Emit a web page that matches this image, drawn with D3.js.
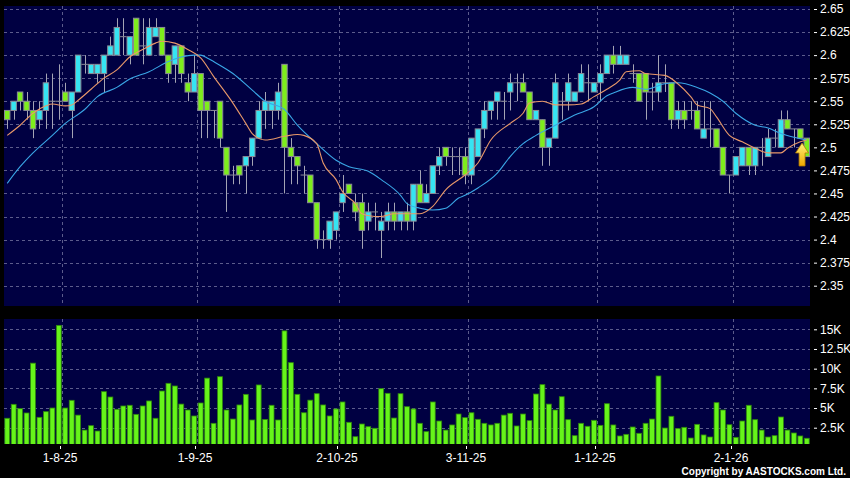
<!DOCTYPE html>
<html>
<head>
<meta charset="utf-8">
<script src="https://d3js.org/d3.v7.min.js"></script>
<style>
	body { margin: 0; background: #000; }
	svg { display: block; }
	.axis text { fill: #fff; font-family: "Liberation Sans", Arial, sans-serif; font-size: 12px; }
	.axis line { stroke: #fff; }
	.axis path { display: none; }
</style>
</head>
<body>
<svg id="chart" width="850" height="478"></svg>
<script>

// price data, one entry per trading day (21 Jul 2025 - 19 Jan 2026)
var open = [2.54,2.54,2.56,2.55,2.54,2.53,2.54,2.55,2.55,2.56,
	2.54,2.56,2.59,2.58,2.58,2.58,2.60,2.60,2.62,2.60,
	2.64,2.61,2.60,2.62,2.63,2.60,2.59,2.61,2.57,2.56,
	2.58,2.55,2.54,2.55,2.50,2.47,2.48,2.48,2.49,2.51,
	2.54,2.54,2.54,2.59,2.50,2.49,2.47,2.47,2.44,2.40,
	2.40,2.41,2.44,2.46,2.44,2.44,2.42,2.43,2.41,2.42,
	2.43,2.42,2.43,2.42,2.46,2.44,2.45,2.48,2.50,2.49,
	2.49,2.49,2.47,2.49,2.52,2.54,2.55,2.55,2.56,2.57,
	2.57,2.56,2.53,2.53,2.50,2.51,2.55,2.55,2.55,2.56,
	2.57,2.56,2.57,2.58,2.60,2.59,2.59,2.58,2.58,2.58,
	2.56,2.56,2.57,2.57,2.53,2.54,2.54,2.54,2.51,2.52,
	2.52,2.50,2.47,2.47,2.48,2.50,2.48,2.50,2.49,2.51,
	2.50,2.53,2.52,2.52,2.51];
var high = [2.54,2.55,2.56,2.56,2.55,2.55,2.58,2.58,2.59,2.57,
	2.56,2.60,2.60,2.59,2.59,2.60,2.62,2.64,2.64,2.62,
	2.64,2.64,2.64,2.64,2.63,2.60,2.61,2.61,2.58,2.60,
	2.58,2.55,2.54,2.55,2.50,2.48,2.48,2.49,2.51,2.55,
	2.56,2.55,2.57,2.59,2.51,2.49,2.48,2.47,2.44,2.41,
	2.42,2.43,2.47,2.46,2.45,2.45,2.44,2.44,2.43,2.44,
	2.44,2.43,2.44,2.46,2.475,2.46,2.48,2.50,2.50,2.50,
	2.50,2.50,2.51,2.52,2.55,2.55,2.56,2.56,2.58,2.58,
	2.58,2.56,2.54,2.53,2.51,2.58,2.56,2.58,2.56,2.59,
	2.59,2.57,2.59,2.60,2.61,2.61,2.60,2.59,2.58,2.58,
	2.57,2.60,2.59,2.57,2.55,2.55,2.55,2.55,2.55,2.55,
	2.52,2.50,2.47,2.49,2.50,2.50,2.50,2.51,2.52,2.52,
	2.54,2.54,2.52,2.52,2.51];
var low = [2.52,2.53,2.54,2.53,2.51,2.52,2.52,2.52,2.53,2.55,
	2.51,2.56,2.58,2.58,2.57,2.56,2.60,2.60,2.60,2.59,
	2.60,2.59,2.60,2.62,2.60,2.57,2.57,2.57,2.55,2.56,
	2.51,2.51,2.51,2.50,2.43,2.46,2.46,2.45,2.48,2.51,
	2.52,2.52,2.53,2.45,2.46,2.46,2.45,2.44,2.39,2.39,
	2.39,2.40,2.43,2.45,2.42,2.39,2.41,2.41,2.38,2.41,
	2.41,2.41,2.41,2.41,2.44,2.44,2.45,2.47,2.48,2.47,
	2.47,2.46,2.46,2.49,2.51,2.53,2.53,2.53,2.54,2.55,
	2.56,2.53,2.53,2.48,2.48,2.51,2.53,2.54,2.55,2.56,
	2.55,2.56,2.55,2.58,2.58,2.59,2.59,2.57,2.55,2.53,
	2.54,2.55,2.56,2.52,2.52,2.52,2.53,2.52,2.51,2.50,
	2.50,2.47,2.45,2.47,2.48,2.47,2.47,2.48,2.49,2.50,
	2.50,2.52,2.50,2.51,2.49];
var close = [2.53,2.55,2.55,2.54,2.52,2.54,2.57,2.55,2.55,2.55,
	2.56,2.60,2.59,2.59,2.59,2.60,2.61,2.63,2.62,2.62,
	2.60,2.61,2.63,2.63,2.60,2.58,2.61,2.58,2.56,2.58,
	2.54,2.54,2.54,2.51,2.47,2.47,2.47,2.49,2.51,2.54,
	2.55,2.55,2.56,2.50,2.49,2.48,2.47,2.44,2.40,2.40,
	2.42,2.43,2.45,2.45,2.43,2.41,2.43,2.43,2.42,2.43,
	2.42,2.43,2.42,2.46,2.44,2.45,2.48,2.49,2.49,2.49,
	2.49,2.47,2.51,2.52,2.54,2.55,2.56,2.55,2.57,2.57,
	2.56,2.53,2.54,2.50,2.51,2.57,2.55,2.57,2.56,2.58,
	2.57,2.57,2.58,2.60,2.59,2.60,2.60,2.58,2.55,2.56,
	2.56,2.57,2.57,2.53,2.54,2.53,2.54,2.52,2.52,2.52,
	2.50,2.47,2.47,2.49,2.50,2.48,2.50,2.50,2.51,2.51,
	2.53,2.52,2.52,2.51,2.49];

// volume in shares
var volume = [3700,5470,4920,4370,10700,3820,4540,5000,15500,5000,
	5980,4100,2200,2760,2080,7080,6400,4840,5260,5350,
	4200,5260,5900,3700,7160,8140,7800,5500,4750,3990,
	5640,8800,3060,8980,4750,3600,5390,6740,3480,7930,
	3550,5350,3480,14800,10760,6740,4400,6000,6820,5390,
	3990,4880,5770,3190,1360,2970,2630,2430,7460,6870,
	3730,6820,5170,4880,3060,2000,5770,3350,2200,2850,
	4240,3780,4400,3570,3060,2850,3060,4100,4330,2720,
	4240,3400,6780,7970,5500,4750,6440,3520,1490,3060,
	2680,3440,2800,5550,2850,1450,1660,2590,1790,3060,
	3600,9070,2460,3950,2380,2550,1190,2930,1580,1320,
	5680,4750,2880,1280,3350,5350,3520,2200,1320,1490,
	3860,2200,1830,1450,1160];

// moving averages: day index, value
var maShortDay = [0,2,4,6,7,9,10,11,13,15,17,19,21,23,24,26,28,30,32,35,37,38,40,43,45,46,48,49,51,52,54,55,57,58,60,63,64,66,68,71,73,75,78,80,81,83,85,87,89,91,93,95,96,98,99,102,104,106,107,109,110,112,114,116,118,120,121,123,124];
var maShort = [2.513,2.524,2.537,2.545,2.547,2.545,2.546,2.551,2.563,2.575,2.584,2.598,2.606,2.613,2.615,2.613,2.606,2.597,2.577,2.548,2.526,2.515,2.508,2.512,2.514,2.513,2.504,2.483,2.465,2.452,2.439,2.428,2.425,2.425,2.428,2.428,2.428,2.436,2.454,2.470,2.483,2.508,2.526,2.537,2.548,2.550,2.546,2.546,2.547,2.555,2.563,2.573,2.582,2.583,2.580,2.578,2.569,2.555,2.546,2.542,2.533,2.513,2.506,2.499,2.494,2.494,2.499,2.506,2.508];
var maLongDay = [0,2,4,7,9,12,14,17,19,22,25,27,29,30,31,32,35,38,40,43,45,48,51,53,56,58,61,62,64,66,68,70,71,73,76,78,80,82,85,88,91,93,94,97,99,102,104,107,109,111,113,116,118,120,122,124];
var maLong = [2.461,2.479,2.494,2.513,2.526,2.541,2.555,2.565,2.574,2.582,2.593,2.598,2.600,2.600,2.597,2.593,2.580,2.562,2.550,2.541,2.524,2.504,2.486,2.479,2.474,2.465,2.448,2.439,2.434,2.432,2.434,2.445,2.448,2.456,2.472,2.490,2.504,2.513,2.524,2.535,2.544,2.556,2.559,2.565,2.563,2.569,2.570,2.565,2.559,2.550,2.537,2.524,2.521,2.515,2.511,2.508];

var priceTicks = [2.35,2.375,2.4,2.425,2.45,2.475,2.5,2.525,2.55,2.575,2.6,2.625,2.65];
var volTicks = [2500,5000,7500,10000,12500,15000];
var volTickLabels = ["2.5K","5K","7.5K","10K","12.5K","15K"];
var monthDay = [9,30,52,72,92,113];
var monthLabels = ["1-8-25","1-9-25","2-10-25","3-11-25","1-12-25","2-1-26"];

var panel = {left: 4, right: 810, top: 6, bottom: 306},
	volPanel = {top: 319, bottom: 444};

var days = d3.range(close.length);

var x = d3.scaleBand().domain(days).range([panel.left, panel.right]).padding(0);
var y = d3.scaleLinear().domain([2.35, 2.65]).range([285.7, 9]);
var yv = d3.scaleLinear().domain([0, 15000]).range([447.4, 329.3]);

var svg = d3.select("#chart");
var defs = svg.append("defs");
defs.append("clipPath").attr("id", "clipMain").append("rect")
	.attr("x", panel.left).attr("y", panel.top)
	.attr("width", panel.right - panel.left).attr("height", panel.bottom - panel.top);
defs.append("clipPath").attr("id", "clipVol").append("rect")
	.attr("x", panel.left).attr("y", volPanel.top)
	.attr("width", panel.right - panel.left).attr("height", volPanel.bottom - volPanel.top);

var grad = defs.append("linearGradient").attr("id", "arrowGrad")
	.attr("x1", 0).attr("x2", 0).attr("y1", 0).attr("y2", 1);
grad.append("stop").attr("offset", "0%").attr("stop-color", "#fff27a");
grad.append("stop").attr("offset", "100%").attr("stop-color", "#f0a800");

// backgrounds
svg.append("rect").attr("x", panel.left).attr("y", panel.top)
	.attr("width", panel.right - panel.left).attr("height", panel.bottom - panel.top)
	.attr("fill", "#000042");
svg.append("rect").attr("x", panel.left).attr("y", volPanel.top)
	.attr("width", panel.right - panel.left).attr("height", volPanel.bottom - volPanel.top)
	.attr("fill", "#000042");

var gridColor = "#5c5c8c";

// grid lines
svg.append("g").selectAll("line")
	.data(priceTicks)
	.enter().append("line")
	.attr("x1", panel.left).attr("x2", panel.right)
	.attr("y1", function(d) { return Math.round(y(d)) + 0.5; })
	.attr("y2", function(d) { return Math.round(y(d)) + 0.5; })
	.attr("stroke", gridColor).attr("stroke-dasharray", "3,3");

svg.append("g").selectAll("line")
	.data(volTicks)
	.enter().append("line")
	.attr("x1", panel.left).attr("x2", panel.right)
	.attr("y1", function(d) { return Math.round(yv(d)) + 0.5; })
	.attr("y2", function(d) { return Math.round(yv(d)) + 0.5; })
	.attr("stroke", gridColor).attr("stroke-dasharray", "3,3");

var vg = svg.append("g");
monthDay.forEach(function(d) {
	var gx = Math.round(x(d)) + 0.5;
	vg.append("line").attr("x1", gx).attr("x2", gx)
		.attr("y1", panel.top).attr("y2", panel.bottom)
		.attr("stroke", gridColor).attr("stroke-dasharray", "3,3");
	vg.append("line").attr("x1", gx).attr("x2", gx)
		.attr("y1", volPanel.top).attr("y2", volPanel.bottom)
		.attr("stroke", gridColor).attr("stroke-dasharray", "3,3");
});

// candles
var bw = x.bandwidth();
var cg = svg.append("g").attr("clip-path", "url(#clipMain)");

cg.selectAll(".wick")
	.data(days)
	.enter().append("line")
	.attr("class", "wick")
	.attr("x1", function(i) { return Math.round(x(i) + bw / 2) + 0.5; })
	.attr("x2", function(i) { return Math.round(x(i) + bw / 2) + 0.5; })
	.attr("y1", function(i) { return y(high[i]); })
	.attr("y2", function(i) { return y(low[i]); })
	.attr("stroke", "#a4a4b4").attr("stroke-width", 1);

cg.selectAll(".body")
	.data(days)
	.enter().append("rect")
	.attr("class", "body")
	.attr("x", function(i) { return x(i) + 0.5; })
	.attr("width", bw - 1)
	.attr("y", function(i) { return y(Math.max(open[i], close[i])); })
	.attr("height", function(i) { return Math.max(0.01, Math.abs(y(open[i]) - y(close[i]))); })
	.attr("fill", function(i) {
		if (close[i] > open[i]) return "#36e4f2";
		if (close[i] < open[i]) return "#7eee1c";
		return "none";
	})
	.attr("stroke", "#8a8a96").attr("stroke-width", 1);

// moving averages
var lineShort = d3.line()
	.x(function(d, k) { return x(maShortDay[k]) + bw / 2; })
	.y(function(d) { return y(d); })
	.curve(d3.curveMonotoneX);
var lineLong = d3.line()
	.x(function(d, k) { return x(maLongDay[k]) + bw / 2; })
	.y(function(d) { return y(d); })
	.curve(d3.curveMonotoneX);

cg.append("path").datum(maLong).attr("d", lineLong)
	.attr("fill", "none").attr("stroke", "#3aa6e6").attr("stroke-width", 1.1);
cg.append("path").datum(maShort).attr("d", lineShort)
	.attr("fill", "none").attr("stroke", "#e8986a").attr("stroke-width", 1.1);

// last price arrow, just below the last short average point
var last = close.length - 1;
var ax = x(last) - 1.5, ay = y(maShort[maShort.length - 1]) + 3;
svg.append("path")
	.attr("d", "M" + ax + "," + ay + " l6.5,10 h-3.5 v13 h-6 v-13 h-3.5 z")
	.attr("fill", "url(#arrowGrad)").attr("stroke", "#b07800").attr("stroke-width", 0.8);

// volume bars
svg.append("g").attr("clip-path", "url(#clipVol)")
	.selectAll("rect")
	.data(days)
	.enter().append("rect")
	.attr("x", function(i) { return x(i) + 0.8; })
	.attr("width", bw - 1.6)
	.attr("y", function(i) { return yv(volume[i]); })
	.attr("height", function(i) { return yv(0) - yv(volume[i]); })
	.attr("fill", "#66f41a").attr("stroke", "#2f8a0c").attr("stroke-width", 0.8);

// axes
svg.append("g")
	.attr("class", "axis")
	.attr("transform", "translate(" + (panel.right + 4) + ",0)")
	.call(d3.axisRight(y).tickValues(priceTicks).tickSize(3).tickPadding(3)
		.tickFormat(function(d) { return String(+d.toFixed(3)); }));

svg.append("g")
	.attr("class", "axis")
	.attr("transform", "translate(" + (panel.right + 4) + ",0)")
	.call(d3.axisRight(yv).tickValues(volTicks).tickSize(3).tickPadding(3)
		.tickFormat(function(d, k) { return volTickLabels[k]; }));

var xa = svg.append("g").attr("class", "axis");
monthDay.forEach(function(d, k) {
	var gx = Math.round(x(d)) - 2;
	xa.append("line").attr("x1", gx + 0.5).attr("x2", gx + 0.5)
		.attr("y1", volPanel.bottom + 2).attr("y2", volPanel.bottom + 5);
	xa.append("text").attr("x", gx).attr("y", 462)
		.attr("text-anchor", "middle")
		.text(monthLabels[k]);
});

svg.append("text")
	.attr("x", 846).attr("y", 475)
	.attr("text-anchor", "end")
	.attr("fill", "#fff")
	.style("font-family", "\"Liberation Sans\", Arial, sans-serif")
	.style("font-size", "10px")
	.style("font-weight", "bold")
	.text("Copyright by AASTOCKS.com Ltd.");

</script>
</body>
</html>
